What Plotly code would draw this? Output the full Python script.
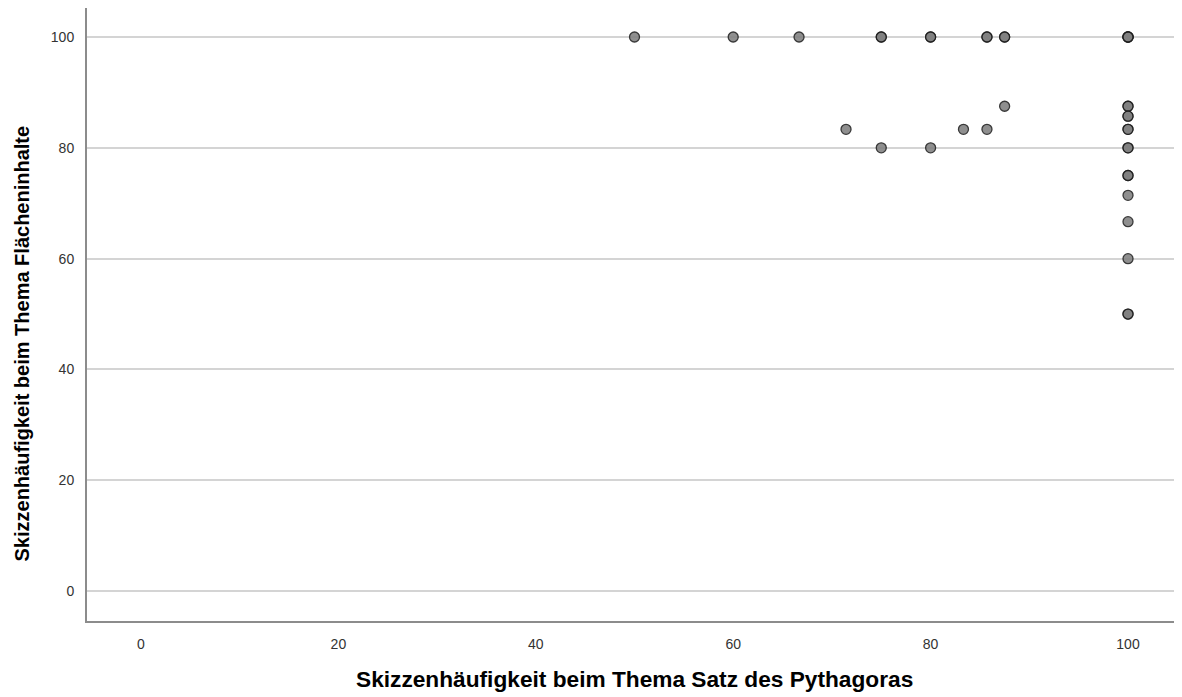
import plotly.graph_objects as go

# Data (duplicates represent overlapping cases)
x_vals = [50, 60, 66.67, 75, 75, 80, 80, 85.71, 85.71, 87.5, 87.5,
          100, 100, 100, 100,
          71.43, 83.33, 85.71, 87.5, 75, 80,
          100, 100, 100, 100, 100, 100, 100, 100, 100, 100, 100, 100, 100, 100, 100]
y_vals = [100, 100, 100, 100, 100, 100, 100, 100, 100, 100, 100,
          100, 100, 100, 100,
          83.33, 83.33, 83.33, 87.5, 80, 80,
          87.5, 87.5, 85.71, 85.71, 83.33, 83.33, 80, 80, 75, 75, 71.43, 66.67, 60, 50, 50]

x_ticks = [0, 20, 40, 60, 80, 100]
y_ticks = [0, 20, 40, 60, 80, 100]
x_title = "Skizzenhäufigkeit beim Thema Satz des Pythagoras"
y_title = "Skizzenhäufigkeit beim Thema Flächeninhalte"

# page body has an 8px offset
OFF = 8
W, H = 1182 - OFF, 697 - OFF
ml, mr, mt, mb = 87 - OFF, 0, 0, H - (621 - OFF)

fig = go.Figure()
fig.add_trace(go.Scatter(
    x=x_vals, y=y_vals, mode="markers",
    marker=dict(size=10, color="#808080", opacity=0.88,
                line=dict(color="#1e1e1e", width=1.3)),
    showlegend=False, hoverinfo="x+y"))

axis_font = dict(family="Liberation Sans, Arial, sans-serif", size=14, color="#333333")
fig.update_xaxes(range=[-5.47, 105.47], tickvals=x_ticks, showgrid=False, zeroline=False,
                 showline=True, linecolor="#8c8c8c", linewidth=2, ticks="",
                 tickfont=axis_font, ticklabelstandoff=9)
fig.update_yaxes(range=[-5.4, 100 + (37 - OFF) / 5.54], tickvals=y_ticks, showgrid=True,
                 gridcolor="#d4d4d4", gridwidth=2, zeroline=False, showline=True,
                 linecolor="#8c8c8c", linewidth=2,
                 ticks="", tickfont=axis_font, ticklabelstandoff=8)

pw = W - ml - mr
ph = H - mt - mb
fig.add_annotation(text=f"<b>{x_title}</b>", xref="paper", yref="paper",
                   x=(634 - 87) / pw, y=-(679 - 621) / ph, showarrow=False,
                   font=dict(family="Liberation Sans, Arial, sans-serif", size=22.7, color="#000000"),
                   xanchor="center", yanchor="middle")
fig.add_annotation(text=f"<b>{y_title}</b>", xref="paper", yref="paper",
                   x=-(87 - 21) / pw, y=1 - (343.5 - OFF) / ph, showarrow=False, textangle=-90,
                   font=dict(family="Liberation Sans, Arial, sans-serif", size=20, color="#000000"),
                   xanchor="center", yanchor="middle")

fig.update_layout(width=W, height=H, margin=dict(l=ml, r=mr, t=mt, b=mb, autoexpand=False),
                  plot_bgcolor="white", paper_bgcolor="white")
fig.write_html("out.html")
